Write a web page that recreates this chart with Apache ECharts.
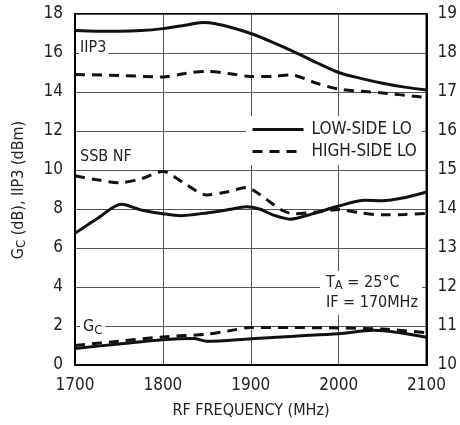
<!DOCTYPE html>
<html><head><meta charset="utf-8">
<script src="https://cdn.jsdelivr.net/npm/echarts@6/dist/echarts.min.js"></script>
<style>html,body{margin:0;padding:0;background:#fff}#c{width:460px;height:425px}</style>
</head><body><div id="c"></div>
<script>
const FONT = '"Liberation Sans Narrow","Arial Narrow","DejaVu Sans Condensed",sans-serif';
const xTicks = [1700, 1800, 1900, 2000, 2100];
const leftTicks = [0, 2, 4, 6, 8, 10, 12, 14, 16, 18];
const rightTicks = [10, 11, 12, 13, 14, 15, 16, 17, 18, 19];

const iip3LowFreq = [1700,1725,1750,1775,1800,1825,1845,1860,1880,1900,1925,1950,1975,2000,2025,2050,2075,2100];
const iip3LowVal  = [17.15,17.12,17.12,17.15,17.25,17.42,17.56,17.5,17.28,17.0,16.55,16.05,15.5,15.0,14.7,14.45,14.25,14.1];
const iip3HighFreq = [1700,1750,1800,1825,1850,1875,1900,1925,1945,1975,2000,2050,2100];
const iip3HighVal  = [14.9,14.85,14.77,14.95,15.06,14.95,14.8,14.8,14.88,14.45,14.15,13.95,13.72];
const nfLowFreq = [1700,1725,1753,1775,1800,1820,1850,1875,1895,1910,1925,1945,1970,2000,2030,2050,2075,2100];
const nfLowVal  = [6.75,7.5,8.24,7.95,7.76,7.66,7.8,7.97,8.12,8.0,7.7,7.48,7.75,8.15,8.45,8.42,8.58,8.87];
const nfHighFreq = [1700,1725,1750,1775,1800,1825,1850,1875,1895,1910,1935,1950,1975,2000,2025,2050,2075,2100];
const nfHighVal  = [9.7,9.5,9.35,9.55,9.92,9.3,8.72,8.9,9.1,8.75,7.95,7.75,7.85,7.97,7.8,7.7,7.72,7.78];
const gcLowFreq = [1700,1750,1800,1835,1850,1900,1950,2000,2040,2070,2100];
const gcLowVal  = [0.85,1.08,1.3,1.36,1.22,1.35,1.48,1.6,1.78,1.65,1.42];
const gcHighFreq = [1700,1750,1800,1850,1875,1900,1950,2000,2050,2100];
const gcHighVal  = [1.0,1.22,1.44,1.58,1.75,1.92,1.92,1.9,1.84,1.66];

const pairs = (f, v) => f.map((x, i) => [x, v[i]]);
const LOW = 'LOW-SIDE LO', HIGH = 'HIGH-SIDE LO';
function ser(name, f, v, dashed) {
  return {
    name, type: 'line', data: pairs(f, v), smooth: 0.3, symbol: 'none',
    lineStyle: { color: '#111', width: 3, type: dashed ? [10, 7] : 'solid' },
    itemStyle: { color: '#111' }, z: 5
  };
}
const chart = echarts.init(document.getElementById('c'));
chart.setOption({
  animation: false,
  backgroundColor: '#fff',
  grid: { left: 75, right: 33, top: 14, bottom: 60, show: true, borderColor: '#000', borderWidth: 2, backgroundColor: 'transparent' },
  xAxis: {
    type: 'value', min: xTicks[0], max: xTicks[xTicks.length - 1], interval: 100,
    axisLine: { show: true, lineStyle: { color: '#000', width: 2 } },
    axisTick: { show: false },
    axisLabel: { color: '#222', fontSize: 17, fontFamily: FONT, margin: 12, formatter: v => String(v) },
    splitLine: { show: true, lineStyle: { color: '#555', width: 1 } }
  },
  yAxis: [{
    type: 'value', min: leftTicks[0], max: leftTicks[leftTicks.length - 1], interval: 2,
    axisLine: { show: true, lineStyle: { color: '#000', width: 2 } },
    axisTick: { show: false },
    axisLabel: { color: '#222', fontSize: 17, fontFamily: FONT, margin: 12 },
    splitLine: { show: true, lineStyle: { color: '#555', width: 1 } }
  }, {
    type: 'value', min: rightTicks[0], max: rightTicks[rightTicks.length - 1], interval: 1, position: 'right',
    axisLine: { show: true, lineStyle: { color: '#000', width: 2 } },
    axisTick: { show: false },
    axisLabel: { color: '#222', fontSize: 17, fontFamily: FONT, margin: 11 },
    splitLine: { show: false }
  }],
  legend: {
    data: [LOW, HIGH], orient: 'vertical', left: 246, top: 116,
    padding: [5, 5, 5, 5], itemWidth: 51, itemHeight: 14, itemGap: 5,
    backgroundColor: '#fff', selectedMode: false,
    itemStyle: { opacity: 0 },
    lineStyle: { width: 3 },
    textStyle: { color: '#222', fontSize: 17, fontFamily: FONT, padding: [0, 0, 0, 3] }
  },
  series: [
    ser(LOW, iip3LowFreq, iip3LowVal, false),
    ser(HIGH, iip3HighFreq, iip3HighVal, true),
    ser(LOW, nfLowFreq, nfLowVal, false),
    ser(HIGH, nfHighFreq, nfHighVal, true),
    ser(LOW, gcLowFreq, gcLowVal, false),
    ser(HIGH, gcHighFreq, gcHighVal, true)
  ],
  graphic: [
    { type: 'text', left: 79, top: 40, z: 10, style: { text: 'IIP3', fill: '#222', font: '16px ' + FONT, backgroundColor: '#fff', padding: [0, 2, 0, 1] } },
    { type: 'text', left: 79, top: 149, z: 10, style: { text: 'SSB NF', fill: '#222', font: '16px ' + FONT, backgroundColor: '#fff', padding: [0, 2, 0, 1] } },
    { type: 'text', left: 80, top: 317, z: 10, style: {
        text: '{a|G}{b|C}', backgroundColor: '#fff', padding: [0, 3, 0, 3],
        rich: { a: { fill: '#222', font: '16px ' + FONT }, b: { fill: '#222', font: '13px ' + FONT, padding: [7, 0, 0, 0] } } } },
    { type: 'text', left: 320, top: 271, z: 10, style: {
        text: '{a|T}{b|A}{a| = 25°C}\n{a|IF = 170MHz}', backgroundColor: '#fff', padding: [2, 4, 2, 6],
        rich: { a: { fill: '#222', font: '16px ' + FONT, lineHeight: 20 }, b: { fill: '#222', font: '13px ' + FONT, padding: [6, 0, 0, 0], lineHeight: 20 } } } },
    { type: 'text', x: 19, y: 190, rotation: Math.PI / 2, z: 10, style: {
        text: '{a|G}{b|C}{a| (dB), IIP3 (dBm)}', align: 'center', verticalAlign: 'middle',
        rich: { a: { fill: '#222', font: '16px ' + FONT }, b: { fill: '#222', font: '13px ' + FONT, padding: [6, 0, 0, 0] } } } },
    { type: 'text', x: 251, y: 411, z: 10, style: { text: 'RF FREQUENCY (MHz)', fill: '#222', font: '16px ' + FONT, align: 'center', verticalAlign: 'middle' } }
  ]
});
</script></body></html>
